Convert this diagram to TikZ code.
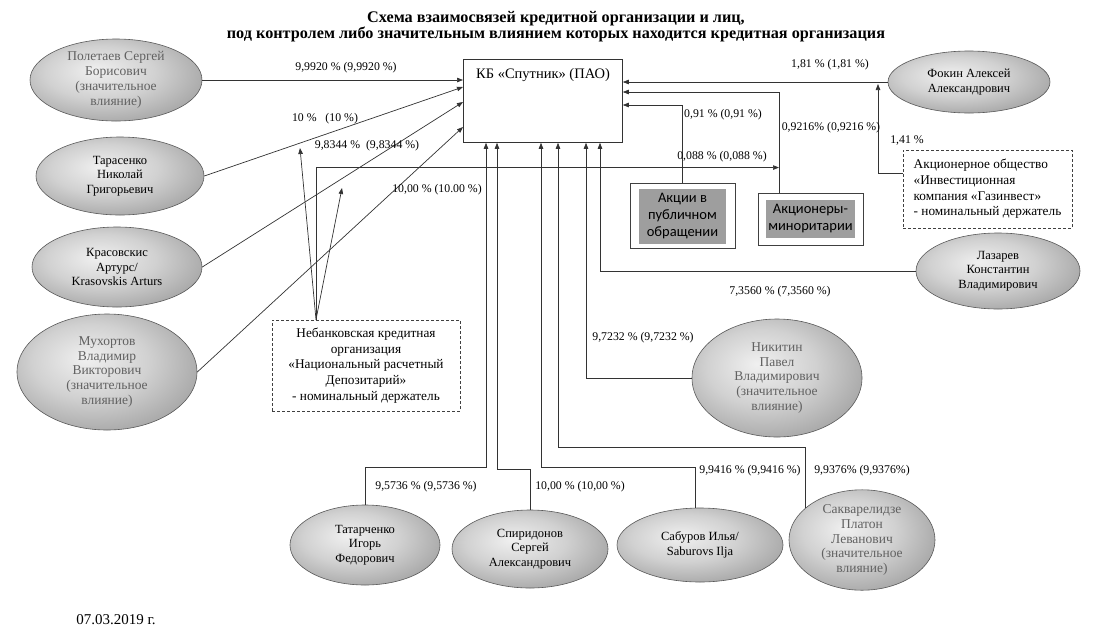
\documentclass[tikz,border=0pt]{standalone}
\usepackage{fontspec}
\setmainfont{Liberation Serif}
\newfontfamily\calib{Carlito}
\usetikzlibrary{shapes.geometric,arrows.meta,calc}
\pgfdeclareradialshading{ellshade}{\pgfpoint{-6bp}{6bp}}{color(0bp)=(black!6); color(16bp)=(black!18); color(40bp)=(black!45); color(52bp)=(black!60); color(72bp)=(black!64)}
\begin{document}
\begin{tikzpicture}[x=1pt,y=-1pt,
  ell/.style={ellipse, shading=ellshade, draw=black!65, line width=0.6pt, inner sep=0pt, align=center, font=\fontsize{12.5}{14.5}\selectfont},
  ellg/.style={ell, text=black!62, font=\fontsize{13.5}{14.8}\selectfont},
  ln/.style={line width=0.7pt, draw=black!80},
  arr/.style={ln, -{Triangle[length=6pt,width=4.5pt]}},
  lab/.style={font=\fontsize{11.8}{13}\selectfont, inner sep=0pt},
  dbox/.style={draw=black!75, line width=0.8pt, dash pattern=on 3pt off 2pt, font=\fontsize{13.3}{15.6}\selectfont, inner sep=0pt},
  obox/.style={draw=black!75, line width=0.9pt, inner sep=0pt},
  gbox/.style={fill=black!38, inner sep=0pt, align=center, font=\calib\fontsize{14.5}{17}\selectfont}
]
\useasboundingbox (0,0) rectangle (1096,641);
\fill[white] (0,0) rectangle (1096,641);

% title
\node[font=\bfseries\fontsize{16.2}{15.5}\selectfont, align=center] (title) at (556,26.5) {Схема взаимосвязей кредитной организации и лиц,\\под контролем либо значительным влиянием которых находится кредитная организация};

% main box
\node[draw=black!80, line width=0.8pt, minimum width=159pt, minimum height=83pt, anchor=north west, inner sep=0pt] (box) at (463,59) {};
\node[font=\fontsize{14.5}{16}\selectfont] (boxlab) at (543,75) {КБ «Спутник» (ПАО)};

% left ellipses
\node[ellg, minimum width=172pt, minimum height=82pt] (pol) at (116,80) {Полетаев Сергей\\Борисович\\(значительное\\влияние)};
\node[ell, minimum width=168pt, minimum height=78pt] (tar) at (120,176) {Тарасенко\\Николай\\Григорьевич};
\node[ell, minimum width=170pt, minimum height=80pt] (kra) at (117,267) {Красовскис\\Артурс/\\Krasovskis Arturs};
\node[ellg, minimum width=180pt, minimum height=116pt] (muh) at (107,372) {Мухортов\\Владимир\\Викторович\\(значительное\\влияние)};

% right ellipses
\node[ell, minimum width=162pt, minimum height=62pt] (fok) at (969,82) {Фокин Алексей\\Александрович};
\node[ell, minimum width=164pt, minimum height=76pt] (laz) at (998,271) {Лазарев\\Константин\\Владимирович};
\node[ellg, minimum width=170pt, minimum height=118pt] (nik) at (777,378) {Никитин\\Павел\\Владимирович\\(значительное\\влияние)};

% bottom ellipses
\node[ell, minimum width=150pt, minimum height=80pt] (tat) at (365,545) {Татарченко\\Игорь\\Федорович};
\node[ell, minimum width=156pt, minimum height=78pt] (spi) at (530,549) {Спиридонов\\Сергей\\Александрович};
\node[ell, minimum width=166pt, minimum height=74pt] (sab) at (700,545) {Сабуров Илья/\\Saburovs Ilja};
\node[ellg, minimum width=146pt, minimum height=96pt] (sak) at (862,540) {Сакварелидзе\\Платон\\Леванович\\(значительное\\влияние)};

% boxes
\node[dbox, minimum width=188pt, minimum height=91pt, align=center] (nrd) at (366,365.5) {Небанковская кредитная\\организация\\«Национальный расчетный\\Депозитарий»\\- номинальный держатель};
\node[dbox, minimum width=169pt, minimum height=78pt, align=left] (gaz) at (987.5,189) {Акционерное общество\\«Инвестиционная\\компания «Газинвест»\\- номинальный держатель};
\node[obox, minimum width=105pt, minimum height=65pt] (akc) at (682.5,215.5) {};
\node[gbox, minimum width=87pt, minimum height=55pt] (akcin) at (682.5,216.5) {Акции в\\публичном\\обращении};
\node[obox, minimum width=105pt, minimum height=52pt] (min) at (810.5,219) {};
\node[gbox, minimum width=89pt, minimum height=38pt] (minin) at (810.5,219) {Акционеры-\\миноритарии};

% coordinates
\coordinate (lB) at ([yshift=-28pt]box.north west);
\coordinate (lC) at ([yshift=-43pt]box.north west);
\coordinate (lD) at ([yshift=-68pt]box.north west);
\coordinate (rB) at ([yshift=-33pt]box.north east);
\coordinate (rC) at ([yshift=-46pt]box.north east);
\coordinate (b1) at ([xshift=23pt]box.south west);
\coordinate (b2) at ([xshift=34pt]box.south west);
\coordinate (b3) at ([xshift=78pt]box.south west);
\coordinate (b4) at ([xshift=95pt]box.south west);
\coordinate (b5) at ([xshift=123pt]box.south west);
\coordinate (b6) at ([xshift=137pt]box.south west);
\coordinate (mtop) at ([xshift=-31.5pt]min.north);
\coordinate (j) at ($(mtop)+(0,-25)$);
\coordinate (apex) at ([xshift=-50pt]nrd.north);
\coordinate (t1) at (300,148);
\coordinate (t2) at (342,188);
\coordinate (gzs) at ([yshift=16pt]gaz.west);
\coordinate (gzt) at (878,84);

% left connectors
\draw[arr] (pol.east) -- (pol.east -| box.west);
\draw[arr] (tar.east) -- (lB);
\draw[arr] (kra.east) -- (lC);
\draw[arr] (muh.east) -- (lD);

% NRD connectors
\draw[arr] (apex) -- (t1);
\draw[arr] (apex) -- (t2);
\draw[arr] (apex) |- (j);

% right connectors
\draw[arr] (fok.west) -- (fok.west -| box.east);
\draw[arr] (mtop) |- (rB);
\draw[arr] (akc.north) |- (rC);
\draw[arr] (gzs) -| (gzt);
\draw[arr] (laz.west) -| (b6);
\draw[arr] (nik.west) -| (b5);

% bottom connectors
\draw[arr] (tat.north) -- ++(0,-37) -| (b1);
\draw[arr] (spi.north) -- ++(0,-40) -| (b2);
\draw[arr] ([xshift=-5pt]sab.north) -- ++(0,-40) -| (b3);
\draw[arr] (sak.150) -- ++(0,-60) -| (b4);

% labels
\node[lab] (l1) at (346,68) {9,9920 \% (9,9920 \%)};
\node[lab] (l2) at (325,119) {10 \%\ \ \ (10 \%)};
\node[lab] (l3) at (367,146) {9,8344 \%\ \ (9,8344 \%)};
\node[lab] (l4) at (437,190) {10,00 \% (10.00 \%)};
\node[lab] (l5) at (722,157) {0,088 \% (0,088 \%)};
\node[lab] (l6) at (723,115) {0,91 \% (0,91 \%)};
\node[lab] (l7) at (831,128) {0,9216\% (0,9216 \%)};
\node[lab] (l8) at (830,65) {1,81 \% (1,81 \%)};
\node[lab] (l9) at (907,140) {1,41 \%};
\node[lab] (l10) at (780,292) {7,3560 \% (7,3560 \%)};
\node[lab] (l11) at (643,338) {9,7232 \% (9,7232 \%)};
\node[lab] (l12) at (426,487) {9,5736 \% (9,5736 \%)};
\node[lab] (l13) at (580,487) {10,00 \% (10,00 \%)};
\node[lab] (l14) at (750,471) {9,9416 \% (9,9416 \%)};
\node[lab] (l15) at (862,471) {9,9376\% (9,9376\%)};

\node[font=\fontsize{15}{17}\selectfont] (date) at (116,620) {07.03.2019 г.};
\end{tikzpicture}
\end{document}
